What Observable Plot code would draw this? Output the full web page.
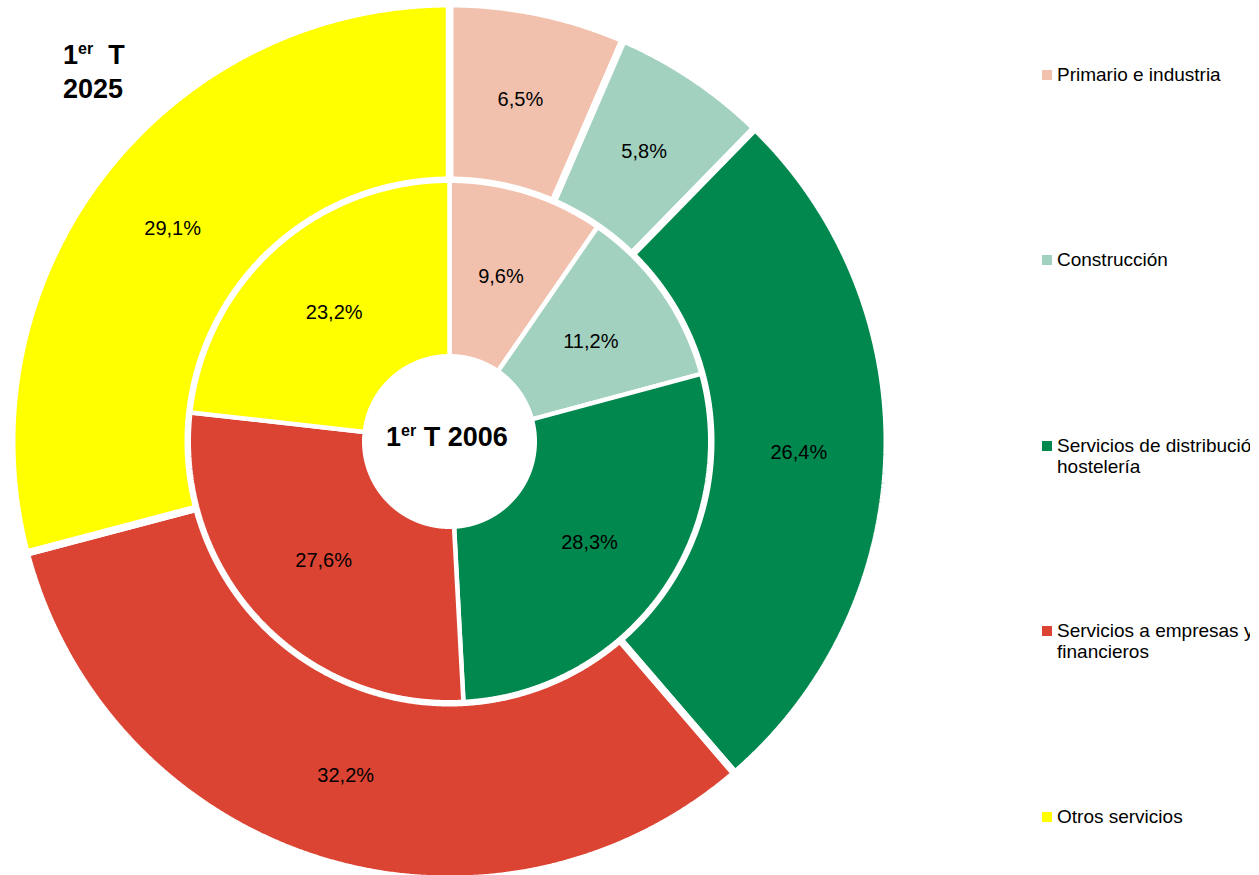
<!DOCTYPE html>
<html>
<head>
<meta charset="utf-8">
<script src="https://cdn.jsdelivr.net/npm/d3@7"></script>
<script src="https://cdn.jsdelivr.net/npm/@observablehq/plot@0.6"></script>
<style>
  html, body { margin: 0; padding: 0; background: #fff; width: 1259px; height: 875px; overflow: hidden; position: relative; font-family: "Liberation Sans", Arial, sans-serif; }
  #chart { position: absolute; left: 0; top: 0; }
  .ttl { position: absolute; font-weight: bold; font-size: 27px; line-height: 31px; color: #000; white-space: nowrap; }
  .ttl .sup { position: relative; top: -10px; font-size: 16px; }
  #legend { position: absolute; left: 1042px; top: 0; width: 208px; height: 875px; overflow: hidden; }
  .item { position: absolute; left: 0; width: 240px; font-size: 19px; line-height: 21px; color: #000; }
  .item .sw { position: absolute; left: 0; top: 6px; width: 10px; height: 10px; }
  .item .tx { margin-left: 15px; display: block; width: 225px; }
</style>
</head>
<body>
<div id="chart"></div>
<div class="ttl" style="left:63px; top:40px;">1<span class="sup">er</span>&nbsp;&nbsp;T<br>2025</div>
<div class="ttl" style="left:386px; top:422px;">1<span class="sup">er</span> T 2006</div>
<div id="legend"></div>
<script>
const categories = ["Primario e industria", "Construcción", "Servicios de distribución y hostelería", "Servicios a empresas y financieros", "Otros servicios"];
const colors = ["#F2C1AD", "#A3D1BF", "#00884E", "#DB4433", "#FFFF00"];
const share2025 = [6.5, 5.8, 26.4, 32.2, 29.1];
const share2006 = [9.6, 11.2, 28.3, 27.6, 23.2];

const fmt = v => v.toFixed(1).replace(".", ",") + "%";

function ring(values, r0, r1, ringName) {
  const arcs = d3.pie().sort(null).value(d => d)(values);
  const polys = [];
  const labels = [];
  arcs.forEach((a, i) => {
    const n = Math.max(2, Math.ceil((a.endAngle - a.startAngle) / 0.004));
    const pts = [];
    for (let k = 0; k <= n; k++) {
      const t = a.startAngle + (a.endAngle - a.startAngle) * k / n;
      pts.push({x: r1 * Math.sin(t), y: r1 * Math.cos(t)});
    }
    for (let k = n; k >= 0; k--) {
      const t = a.startAngle + (a.endAngle - a.startAngle) * k / n;
      pts.push({x: r0 * Math.sin(t), y: r0 * Math.cos(t)});
    }
    pts.push({...pts[0]});
    pts.forEach(p => polys.push({...p, id: ringName + i, color: colors[i]}));
    const m = (a.startAngle + a.endAngle) / 2;
    const rm = (r0 + r1) / 2;
    labels.push({x: rm * Math.sin(m), y: rm * Math.cos(m), text: fmt(values[i])});
  });
  return {polys, labels};
}

const outer = ring(share2025, 261.25, 437.75, "o");
const inner = ring(share2006, 85.25, 260.75, "i");

const chart = Plot.plot({
  width: 900,
  height: 875,
  margin: 0,
  x: {domain: [-449, 451], axis: null},
  y: {domain: [-434, 441], axis: null},
  style: {fontFamily: "'Liberation Sans', Arial, sans-serif", background: "transparent", overflow: "visible"},
  marks: [
    Plot.line(outer.polys, {x: "x", y: "y", z: "id", fill: "color", stroke: "white", strokeWidth: 7.5, strokeLinejoin: "miter", curve: "linear"}),
    Plot.line(inner.polys, {x: "x", y: "y", z: "id", fill: "color", stroke: "white", strokeWidth: 4.5, strokeLinejoin: "miter", curve: "linear"}),
    Plot.text(outer.labels, {x: "x", y: "y", text: "text", fontSize: 20, fill: "#000"}),
    Plot.text(inner.labels, {x: "x", y: "y", text: "text", fontSize: 20, fill: "#000"})
  ]
});
document.getElementById("chart").appendChild(chart);

const legend = document.getElementById("legend");
categories.forEach((c, i) => {
  const div = document.createElement("div");
  div.className = "item";
  div.style.top = (74 + i * 185.5 - 10.5) + "px";
  div.innerHTML = `<span class="sw" style="background:${colors[i]}"></span><span class="tx">${c}</span>`;
  legend.appendChild(div);
});
</script>
</body>
</html>
